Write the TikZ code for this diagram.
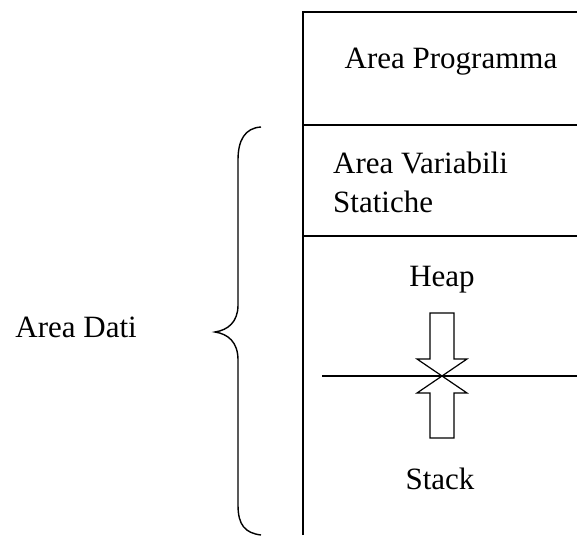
\documentclass[tikz,border=0pt]{standalone}
\usepackage{fontspec}
\setmainfont{Liberation Serif}
\begin{document}
\begin{tikzpicture}[x=1pt,y=-1pt,
  lbl/.style={inner sep=0pt,font=\fontsize{31}{38}\selectfont},
  frame/.style={line width=2pt},
  brace/.style={line width=1.4pt},
  bigarrow/.style={line width=1.2pt,line join=miter}]
\useasboundingbox (0,0) rectangle (577,535);
% memory column
\draw[frame] (303,535) -- (303,12) -- (577,12);
\draw[frame] (303,125) -- (577,125);
\draw[frame] (303,236) -- (577,236);
\draw[line width=1.4pt] (322,376) -- (577,376);
% labels
\node[lbl,anchor=base] (prog) at (451,68) {Area Programma};
\node[lbl,anchor=base west] (var1) at (333,173) {Area Variabili};
\node[lbl,anchor=base west] (var2) at (333,212) {Statiche};
\node[lbl,anchor=base] (heap) at (442,286) {Heap};
\node[lbl,anchor=base] (stack) at (440,489) {Stack};
\node[lbl,anchor=base east] (dati) at (137,337) {Area Dati};
% arrows
\draw[bigarrow] (430,313) -- (454,313) -- (454,359) -- (467,359) -- (442,376) -- (417,359) -- (430,359) -- cycle;
\draw[bigarrow] (442,376) -- (467,393) -- (454,393) -- (454,438) -- (430,438) -- (430,393) -- (417,393) -- cycle;
% brace
\draw[brace] (261,127) .. controls (245,128) and (238,140) .. (238,160) -- (238,305)
  .. controls (238,322) and (228,330) .. (215,332)
  .. controls (228,334) and (238,342) .. (238,360) -- (238,505)
  .. controls (238,525) and (245,533) .. (261,535);
\end{tikzpicture}
\end{document}
